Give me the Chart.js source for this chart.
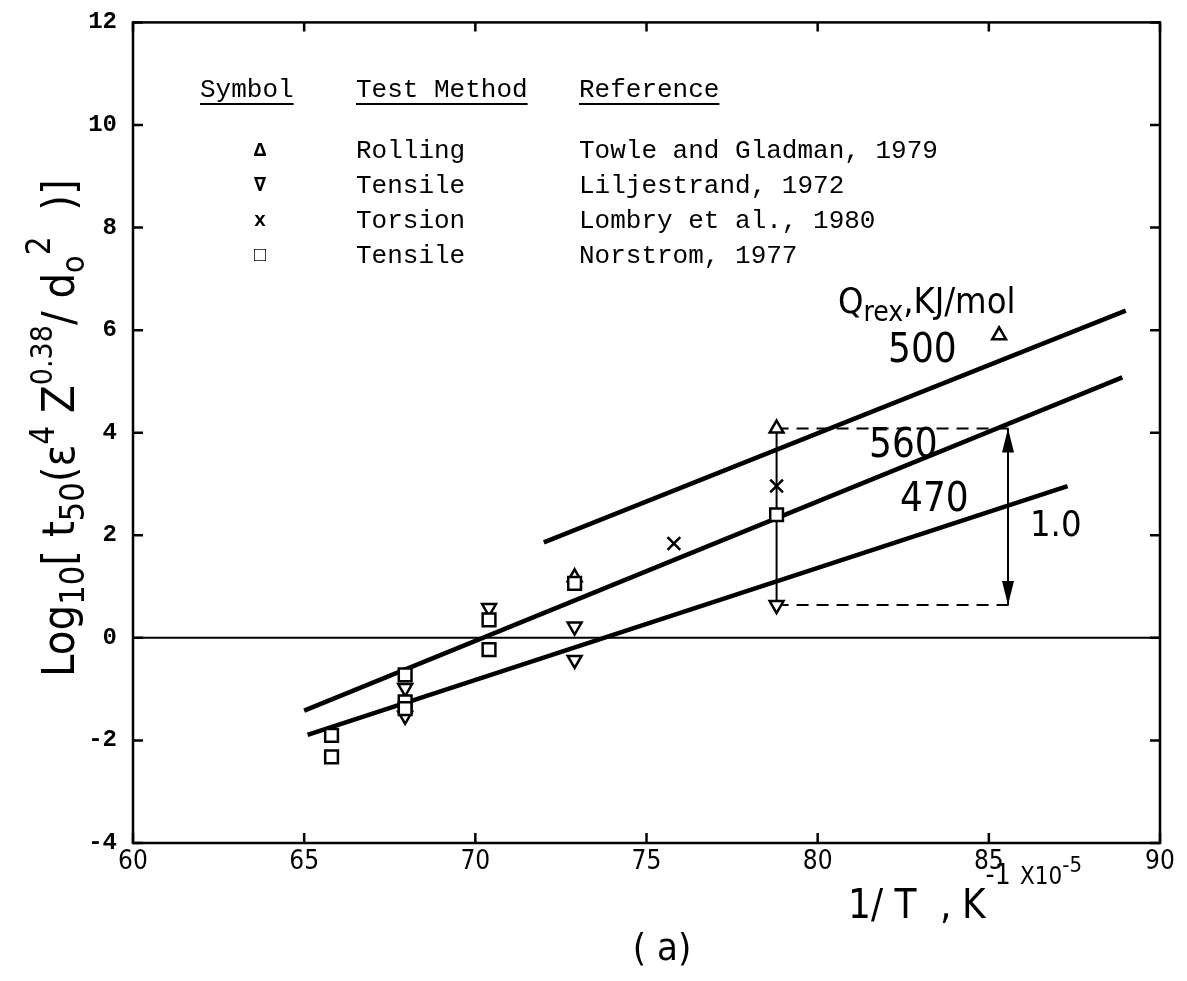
<!DOCTYPE html>
<html>
<head>
<meta charset="utf-8">
<script src="https://cdn.jsdelivr.net/npm/chart.js@4.4.0/dist/chart.umd.min.js"></script>
<style>
  html, body { margin: 0; padding: 0; background: #fff; }
  #wrap { width: 1187px; height: 981px; }
</style>
</head>
<body>
<div id="wrap"><canvas id="chart" width="1187" height="981"></canvas></div>
<script>
// ==================== DATA ====================
const xTicks = [60, 65, 70, 75, 80, 85, 90];
const yTicks = [-4, -2, 0, 2, 4, 6, 8, 10, 12];

// Rolling - Towle and Gladman, 1979 (triangle up)
const towleX = [72.9, 78.8, 85.3];
const towleY = [1.18, 4.08, 5.9];
// Tensile - Liljestrand, 1972 (triangle down)
const liljX = [67.95, 67.95, 70.4, 72.9, 72.9, 78.8];
const liljY = [-0.98, -1.52, 0.58, 0.22, -0.43, 0.64];
// Torsion - Lombry et al., 1980 (cross)
const lombryX = [75.8, 78.8];
const lombryY = [1.84, 2.96];
// Tensile - Norstrom, 1977 (square)
const norX = [65.8, 65.8, 67.95, 67.95, 67.95, 70.4, 70.4, 72.9, 78.8];
const norY = [-1.9, -2.32, -0.72, -1.25, -1.38, 0.35, -0.23, 1.06, 2.4];

// Q_rex fit lines
const line500X = [72.0, 89.0];
const line500Y = [1.86, 6.38];
const line560X = [65.0, 88.9];
const line560Y = [-1.42, 5.08];
const line470X = [65.1, 87.3];
const line470Y = [-1.89, 2.96];

// zero line, span marker and dashed guides
const zeroX = [60, 90];
const zeroY = [0, 0];
const spanX = [78.8, 78.8];
const spanY = [4.08, 0.64];
const guideX = [78.8, 85.8];
const guideTopY = [4.08, 4.08];
const guideBotY = [0.64, 0.64];
const arrowX = [85.56, 85.56];
const arrowY = [4.08, 0.64];

const legendRows = [
    { sym: '\u0394', method: 'Rolling', ref: 'Towle and Gladman, 1979' },
    { sym: '\u2207', method: 'Tensile', ref: 'Liljestrand, 1972' },
    { sym: 'x', method: 'Torsion', ref: 'Lombry et al., 1980' },
    { sym: '\u25A1', method: 'Tensile', ref: 'Norstrom, 1977' }
];

const SANS = '"DejaVu Sans Condensed", "Liberation Sans Narrow", "DejaVu Sans", sans-serif';
const MONO = '"Liberation Mono", "DejaVu Sans Mono", monospace';

function pts(xs, ys) {
    return xs.map((x, i) => ({ x: x, y: ys[i] }));
}

function lineSet(xs, ys, width, dash) {
    return {
        data: pts(xs, ys),
        showLine: true,
        borderColor: '#000',
        borderWidth: width,
        borderDash: dash || [],
        pointRadius: 0,
        fill: false,
        order: 2
    };
}

function markerSet(xs, ys, style, radius, rotation) {
    return {
        data: pts(xs, ys),
        showLine: false,
        pointStyle: style,
        pointRadius: radius,
        pointRotation: rotation || 0,
        pointBackgroundColor: '#fff',
        pointBorderColor: '#000',
        pointBorderWidth: 2.5,
        order: 0
    };
}

// draw a run of text pieces: [text, fontSize, dy]
function richWidth(ctx, parts) {
    let w = 0;
    parts.forEach(p => {
        ctx.font = p[1] + 'px ' + SANS;
        w += ctx.measureText(p[0]).width;
    });
    return w;
}

function drawRich(ctx, parts, x, y) {
    let cx = x;
    parts.forEach(p => {
        ctx.font = p[1] + 'px ' + SANS;
        ctx.fillText(p[0], cx, y + p[2]);
        cx += ctx.measureText(p[0]).width;
    });
}

// ==================== DECORATION PLUGIN ====================
const decor = {
    id: 'decor',
    afterDraw(chart) {
        const ctx = chart.ctx;
        const xs = chart.scales.x;
        const ys = chart.scales.y;
        const a = chart.chartArea;

        ctx.save();
        ctx.strokeStyle = '#000';
        ctx.fillStyle = '#000';

        // frame
        ctx.lineWidth = 2.5;
        ctx.strokeRect(a.left, a.top, a.right - a.left, a.bottom - a.top);

        // inward ticks
        ctx.beginPath();
        xTicks.forEach(v => {
            const px = xs.getPixelForValue(v);
            ctx.moveTo(px, a.bottom); ctx.lineTo(px, a.bottom - 10);
            ctx.moveTo(px, a.top); ctx.lineTo(px, a.top + 9);
        });
        yTicks.forEach(v => {
            const py = ys.getPixelForValue(v);
            ctx.moveTo(a.left, py); ctx.lineTo(a.left + 10, py);
            ctx.moveTo(a.right, py); ctx.lineTo(a.right - 10, py);
        });
        ctx.stroke();

        // arrow heads on the 1.0 span
        const ax = xs.getPixelForValue(arrowX[0]);
        const aTop = ys.getPixelForValue(arrowY[0]);
        const aBot = ys.getPixelForValue(arrowY[1]);
        ctx.beginPath();
        ctx.moveTo(ax, aTop); ctx.lineTo(ax - 6, aTop + 24); ctx.lineTo(ax + 6, aTop + 24); ctx.closePath();
        ctx.moveTo(ax, aBot); ctx.lineTo(ax - 6, aBot - 24); ctx.lineTo(ax + 6, aBot - 24); ctx.closePath();
        ctx.fill();

        // legend table
        ctx.textBaseline = 'alphabetic';
        ctx.font = '26px ' + MONO;
        const heads = [['Symbol', 200], ['Test Method', 356], ['Reference', 579]];
        ctx.lineWidth = 2;
        heads.forEach(h => {
            ctx.fillText(h[0], h[1], 97);
            const w = ctx.measureText(h[0]).width;
            ctx.beginPath();
            ctx.moveTo(h[1], 104); ctx.lineTo(h[1] + w, 104);
            ctx.stroke();
        });
        legendRows.forEach((r, i) => {
            const by = 158 + i * 35;
            ctx.font = 'bold 20px ' + MONO;
            ctx.textAlign = 'center';
            ctx.fillText(r.sym, 260, by - 2);
            ctx.textAlign = 'left';
            ctx.font = '26px ' + MONO;
            ctx.fillText(r.method, 356, by);
            ctx.fillText(r.ref, 579, by);
        });

        // line annotations
        ctx.textAlign = 'left';
        drawRich(ctx, [['Q', 36, 0], ['rex', 28, 8], [',KJ/mol', 36, 0]], 838, 313);
        ctx.font = '40px ' + SANS;
        ctx.fillText('500', 888, 362);
        ctx.fillText('560', 869, 457);
        ctx.fillText('470', 900, 511);
        ctx.font = '36px ' + SANS;
        ctx.fillText('1.0', 1030, 536);

        // x title
        drawRich(ctx, [['1/ T', 40, 0]], 848, 918);
        drawRich(ctx, [[',', 40, 0]], 940, 918);
        drawRich(ctx, [['K', 40, 0], ['-1', 28, -34]], 962, 918);
        drawRich(ctx, [['X10', 24, 0], ['-5', 22, -12]], 1020, 884);

        // panel label
        ctx.textAlign = 'center';
        ctx.font = '38px ' + SANS;
        ctx.fillText('( a)', 662, 960);

        // y title (rotated)
        const yParts = [
            ['Log', 45, 0], ['10', 34, 10], ['[ t', 45, 0], ['50', 34, 10],
            ['(\u03B5', 45, 0], ['4', 33, -20], [' Z', 45, 0], ['0.38', 30, -22],
            ['/ d', 45, 0], ['o', 32, 10], ['2', 33, -24], ['  )]', 45, 0]
        ];
        ctx.textAlign = 'left';
        const tw = richWidth(ctx, yParts);
        ctx.translate(74, 428);
        ctx.rotate(-Math.PI / 2);
        drawRich(ctx, yParts, -tw / 2, 0);
        ctx.restore();
    }
};

// ==================== CHART ====================
const tickFontY = { family: MONO, size: 24, weight: 'bold' };
const tickFontX = { family: SANS, size: 26 };

new Chart(document.getElementById('chart'), {
    type: 'scatter',
    data: {
        datasets: [
            markerSet(norX, norY, 'rect', 9),
            markerSet(lombryX, lombryY, 'crossRot', 9),
            markerSet(liljX, liljY, 'triangle', 8, 180),
            markerSet(towleX, towleY, 'triangle', 8),
            lineSet(line500X, line500Y, 4.5),
            lineSet(line560X, line560Y, 4.5),
            lineSet(line470X, line470Y, 4.5),
            lineSet(zeroX, zeroY, 2),
            lineSet(spanX, spanY, 2),
            lineSet(guideX, guideTopY, 2, [12, 8]),
            lineSet(guideX, guideBotY, 2, [12, 8]),
            lineSet(arrowX, arrowY, 2)
        ]
    },
    options: {
        responsive: false,
        animation: false,
        layout: { padding: { top: 10, right: 27, left: 0, bottom: 0 } },
        plugins: {
            legend: { display: false },
            tooltip: { enabled: false }
        },
        scales: {
            x: {
                type: 'linear',
                min: 60,
                max: 90,
                afterBuildTicks: s => { s.ticks = xTicks.map(v => ({ value: v })); },
                afterFit: s => { s.height = 138; },
                ticks: { color: '#000', font: tickFontX, padding: -4, maxRotation: 0 },
                grid: { display: false },
                border: { display: false }
            },
            y: {
                type: 'linear',
                min: -4,
                max: 12,
                afterBuildTicks: s => { s.ticks = yTicks.map(v => ({ value: v })); },
                afterFit: s => { s.width = 133; },
                ticks: { color: '#000', font: tickFontY, padding: 8 },
                grid: { display: false },
                border: { display: false }
            }
        }
    },
    plugins: [decor]
});
</script>
</body>
</html>
